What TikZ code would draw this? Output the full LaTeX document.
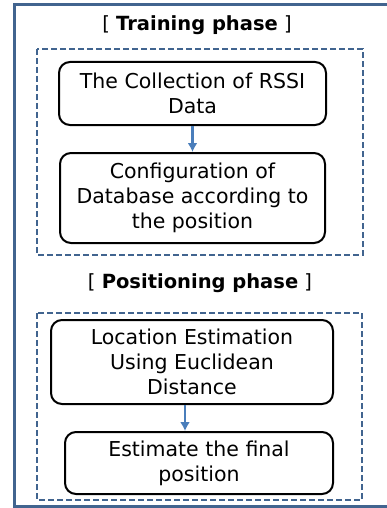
\documentclass[tikz,border=0pt]{standalone}
\usepackage{fontspec}
\setmainfont{DejaVu Sans}
\usetikzlibrary{arrows.meta, positioning}

\definecolor{frameblue}{HTML}{41648F}
\definecolor{arrowblue}{HTML}{4A7EBB}

\begin{document}
\begin{tikzpicture}[x=1pt,y=-1pt,
    stepbox/.style={draw, line width=2pt, rounded corners=11pt, align=center,
        inner sep=0pt, font=\fontsize{20.5}{25}\selectfont},
    phase/.style={font=\fontsize{19.5}{22}\selectfont},
    flow/.style={-{Latex[length=9pt,width=10pt]}, arrowblue, line width=2.2pt}]
    \useasboundingbox (0,0) rectangle (387,508);
    \clip (0,0) rectangle (387,508);
    % outer frame
    \draw[frameblue, line width=3pt] (14,5) rectangle (400,506);
    % training phase
    \node[phase] (train) at (197,25) {[ \textbf{Training phase} ]};
    \draw[frameblue, line width=1.8pt, dash pattern=on 6pt off 3pt] (37,49) rectangle (363,255);
    \node[stepbox, minimum width=267pt, minimum height=63pt] (collect) at (192.5,93.5)
        {The Collection of RSSI\\Data};
    \node[stepbox, minimum width=265pt, minimum height=90pt] (config) at (192.5,198)
        {Configuration of\\Database according to\\the position};
    \draw[flow] (collect) -- (config);
    % positioning phase
    \node[phase] (pos) at (200,283) {[ \textbf{Positioning phase} ]};
    \draw[frameblue, line width=1.8pt, dash pattern=on 6pt off 3pt] (37,313) rectangle (362,500);
    \node[stepbox, minimum width=282pt, minimum height=84pt] (locate) at (192,362)
        {Location Estimation\\Using Euclidean\\Distance};
    \node[stepbox, minimum width=268pt, minimum height=62pt] (final) at (199,463)
        {Estimate the final\\position};
    \draw[flow] (locate.south -| 185,0) -- (final.north -| 185,0);
\end{tikzpicture}
\end{document}
